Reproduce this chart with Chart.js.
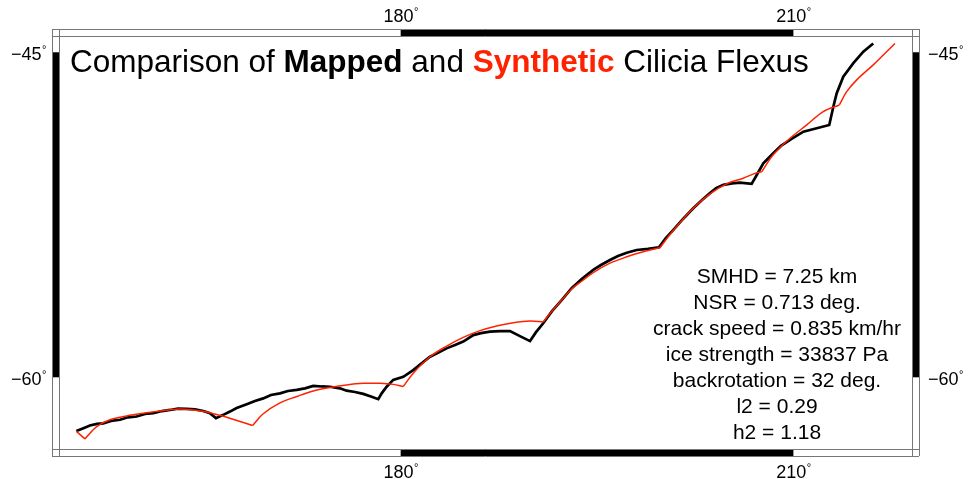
<!DOCTYPE html>
<html>
<head>
<meta charset="utf-8">
<script src="https://cdn.jsdelivr.net/npm/chart.js@4/dist/chart.umd.min.js"></script>
<style>
  html, body { margin: 0; padding: 0; background: #fff; }
  canvas { display: block; }
</style>
</head>
<body>
<canvas id="c" width="973" height="479"></canvas>
<script>
// Mapped trace of Cilicia Flexus (longitude °E, latitude °)
const mappedLon = [155.23, 155.81, 156.26, 156.80, 157.28, 157.87, 158.56, 159.17, 159.83, 160.47,
  161.10, 161.76, 162.38, 162.99, 163.65, 164.29, 164.92, 165.43, 165.89, 166.45,
  166.96, 167.47, 168.24, 168.87, 169.50, 170.09, 170.78, 171.39, 172.06, 172.69,
  173.32, 173.99, 174.60, 175.36, 175.87, 176.51, 177.14, 177.73, 178.29, 178.55,
  178.93, 179.43, 180.20, 180.96, 181.55, 182.24, 182.85, 183.51, 184.15, 184.78,
  185.55, 186.13, 186.82, 187.59, 188.35, 189.11, 189.88, 190.34, 190.89, 191.56,
  192.30, 193.06, 193.85, 194.71, 195.30, 195.99, 196.60, 197.27, 198.03, 198.89,
  199.73, 200.27, 200.83, 201.57, 202.35, 203.02, 203.63, 204.09, 204.65, 205.31,
  205.92, 206.81, 207.20, 207.70, 208.46, 209.05, 209.74, 210.76, 211.78, 212.74,
  213.05, 213.31, 213.81, 214.58, 215.34, 216.10];
const mappedLat = [-62.00, -61.89, -61.80, -61.74, -61.72, -61.63, -61.59, -61.50, -61.47, -61.38,
  -61.35, -61.27, -61.23, -61.18, -61.19, -61.21, -61.27, -61.35, -61.53, -61.41,
  -61.29, -61.16, -61.02, -60.90, -60.80, -60.67, -60.61, -60.52, -60.48, -60.42,
  -60.33, -60.35, -60.36, -60.42, -60.51, -60.56, -60.63, -60.73, -60.83, -60.61,
  -60.36, -60.10, -59.98, -59.72, -59.48, -59.20, -59.05, -58.87, -58.74, -58.60,
  -58.34, -58.26, -58.20, -58.18, -58.18, -58.38, -58.58, -58.22, -57.86, -57.36,
  -56.90, -56.40, -56.00, -55.61, -55.40, -55.18, -55.01, -54.86, -54.74, -54.69,
  -54.62, -54.20, -53.84, -53.34, -52.85, -52.46, -52.14, -51.90, -51.75, -51.68,
  -51.64, -51.70, -51.28, -50.71, -50.22, -49.86, -49.56, -49.15, -48.98, -48.81,
  -47.88, -47.18, -46.31, -45.59, -44.97, -44.52];

// Synthetic cycloid (longitude °E, latitude °)
const syntheticLon = [155.23, 155.88, 156.78, 157.79, 159.07, 160.34, 161.61, 162.89, 164.16, 165.43,
  166.71, 167.98, 168.69, 169.48, 170.78, 172.06, 173.32, 174.60, 175.87, 177.14,
  178.42, 179.43, 180.20, 180.96, 182.24, 183.51, 184.78, 186.06, 187.33, 188.60,
  189.88, 190.89, 191.56, 192.30, 193.06, 193.85, 194.71, 195.99, 197.27, 198.53,
  199.81, 200.42, 201.08, 202.35, 203.63, 204.90, 206.17, 207.07, 207.58, 208.46,
  209.74, 211.02, 212.28, 213.51, 214.07, 214.84, 216.10, 216.87, 217.76];
const syntheticLat = [-62.01, -62.28, -61.84, -61.59, -61.45, -61.35, -61.27, -61.20, -61.23, -61.33,
  -61.50, -61.69, -61.80, -61.38, -60.97, -60.73, -60.52, -60.39, -60.29, -60.23,
  -60.23, -60.27, -60.35, -59.84, -59.20, -58.78, -58.43, -58.16, -57.97, -57.84,
  -57.77, -57.81, -57.36, -56.90, -56.43, -56.09, -55.73, -55.32, -55.04, -54.82,
  -54.64, -54.16, -53.69, -52.85, -52.18, -51.70, -51.43, -51.20, -51.12, -50.30,
  -49.48, -48.81, -48.13, -47.79, -47.10, -46.48, -45.68, -45.15, -44.52];
// indices of the cusps where one cycloid arc ends and the next begins
const syntheticCusps = [1, 12, 22, 31, 40, 48, 53];

// Map extent and frame annotation
const lonRange = [153.90, 219.06];
const latRange = [-62.64, -44.11];
const lonTicks = [180, 210];
const latTicks = [-45, -60];
const lonBands = [150, 180, 210, 240];
const latBands = [-30, -45, -60, -75];

const statLines = [
  'SMHD = 7.25 km',
  'NSR = 0.713 deg.',
  'crack speed = 0.835 km/hr',
  'ice strength = 33837 Pa',
  'backrotation = 32 deg.',
  'l2 = 0.29',
  'h2 = 1.18'
];

const RED = '#ff2200';
const FONT = "'Liberation Sans', Arial, Helvetica, sans-serif";

// Mercator ordinate for a latitude in degrees
function merc(lat) {
  const r = lat * Math.PI / 180;
  return Math.log(Math.tan(Math.PI / 4 + r / 2));
}

function toPoints(lons, lats) {
  return lons.map((lon, i) => ({ x: lon, y: merc(lats[i]) }));
}

// split the synthetic track into arcs so cusps stay sharp
function syntheticArcs() {
  const pts = toPoints(syntheticLon, syntheticLat);
  const cuts = [0, ...syntheticCusps, pts.length - 1];
  const arcs = [];
  for (let i = 0; i < cuts.length - 1; i++) {
    arcs.push(pts.slice(cuts[i], cuts[i + 1] + 1));
  }
  return arcs;
}

function degLabel(ctx, text, x, y, align) {
  ctx.font = '18px ' + FONT;
  const wMain = ctx.measureText(text).width;
  ctx.font = '11px ' + FONT;
  const wDeg = ctx.measureText('°').width;
  let x0;
  if (align === 'center') x0 = x - (wMain + wDeg) / 2;
  else if (align === 'right') x0 = x - (wMain + wDeg);
  else x0 = x;
  ctx.textAlign = 'left';
  ctx.textBaseline = 'middle';
  ctx.font = '18px ' + FONT;
  ctx.fillText(text, x0, y);
  ctx.font = '11px ' + FONT;
  ctx.fillText('°', x0 + wMain + 0.5, y - 5);
}

const mapFrame = {
  id: 'mapFrame',
  afterDraw(chart) {
    const ctx = chart.ctx;
    const a = chart.chartArea;
    const xs = chart.scales.x, ys = chart.scales.y;
    const w = 7;
    const L = a.left, R = a.right, T = a.top, B = a.bottom;
    ctx.save();

    // checkered border bands
    ctx.fillStyle = '#000';
    for (let i = 0; i < lonBands.length - 1; i++) {
      if (i % 2 !== 1) continue;
      const x0 = Math.max(L, xs.getPixelForValue(lonBands[i]));
      const x1 = Math.min(R, xs.getPixelForValue(lonBands[i + 1]));
      if (x1 <= x0) continue;
      ctx.fillRect(x0, T - w, x1 - x0, w);
      ctx.fillRect(x0, B, x1 - x0, w);
    }
    for (let i = 0; i < latBands.length - 1; i++) {
      if (i % 2 !== 1) continue;
      const y0 = Math.max(T, ys.getPixelForValue(merc(latBands[i])));
      const y1 = Math.min(B, ys.getPixelForValue(merc(latBands[i + 1])));
      if (y1 <= y0) continue;
      ctx.fillRect(L - w, y0, w, y1 - y0);
      ctx.fillRect(R, y0, w, y1 - y0);
    }

    // frame lines
    ctx.strokeStyle = '#777';
    ctx.lineWidth = 1;
    ctx.beginPath();
    [T - w, T, B, B + w].forEach(y => {
      ctx.moveTo(L - w, Math.round(y) + 0.5);
      ctx.lineTo(R + w, Math.round(y) + 0.5);
    });
    [L - w, L, R, R + w].forEach(x => {
      ctx.moveTo(Math.round(x) + 0.5, T - w);
      ctx.lineTo(Math.round(x) + 0.5, B + w);
    });
    ctx.stroke();

    // annotations
    ctx.fillStyle = '#000';
    lonTicks.forEach(lon => {
      const x = xs.getPixelForValue(lon);
      degLabel(ctx, String(lon), x, T - w - 12, 'center');
      degLabel(ctx, String(lon), x, B + w + 17, 'center');
    });
    latTicks.forEach(lat => {
      const y = ys.getPixelForValue(merc(lat)) + 3;
      const t = (lat < 0 ? '\u2212' : '') + Math.abs(lat);
      degLabel(ctx, t, L - w - 6, y, 'right');
      degLabel(ctx, t, R + w + 9, y, 'left');
    });

    // title
    const parts = [
      ['Comparison of ', 'normal', '#000'],
      ['Mapped', 'bold', '#000'],
      [' and ', 'normal', '#000'],
      ['Synthetic', 'bold', RED],
      [' Cilicia Flexus', 'normal', '#000']
    ];
    let tx = L + 11;
    ctx.textAlign = 'left';
    ctx.textBaseline = 'alphabetic';
    parts.forEach(([s, wgt, col]) => {
      ctx.font = wgt + ' 31.5px ' + FONT;
      ctx.fillStyle = col;
      ctx.fillText(s, tx, 72);
      tx += ctx.measureText(s).width;
    });

    // fit statistics
    ctx.fillStyle = '#000';
    ctx.font = '21px ' + FONT;
    ctx.textAlign = 'center';
    ctx.textBaseline = 'middle';
    statLines.forEach((s, i) => ctx.fillText(s, 777, 277 + i * 26));

    ctx.restore();
  }
};

const arcSets = syntheticArcs().map((pts, i) => ({
  label: i === 0 ? 'Synthetic' : '',
  data: pts,
  showLine: true,
  borderColor: RED,
  borderWidth: 1.5,
  pointRadius: 0,
  tension: 0.35,
  fill: false
}));

new Chart(document.getElementById('c'), {
  type: 'scatter',
  data: {
    datasets: [
      ...arcSets,
      {
        label: 'Mapped',
        data: toPoints(mappedLon, mappedLat),
        showLine: true,
        borderColor: '#000',
        borderWidth: 2.7,
        pointRadius: 0,
        tension: 0,
        fill: false
      }
    ]
  },
  options: {
    responsive: false,
    animation: false,
    events: [],
    layout: { padding: { left: 59, top: 36, right: 61, bottom: 30 } },
    plugins: { legend: { display: false }, tooltip: { enabled: false }, title: { display: false } },
    scales: {
      x: { type: 'linear', min: lonRange[0], max: lonRange[1], display: false },
      y: { type: 'linear', min: merc(latRange[0]), max: merc(latRange[1]), display: false }
    }
  },
  plugins: [mapFrame]
});
</script>
</body>
</html>
